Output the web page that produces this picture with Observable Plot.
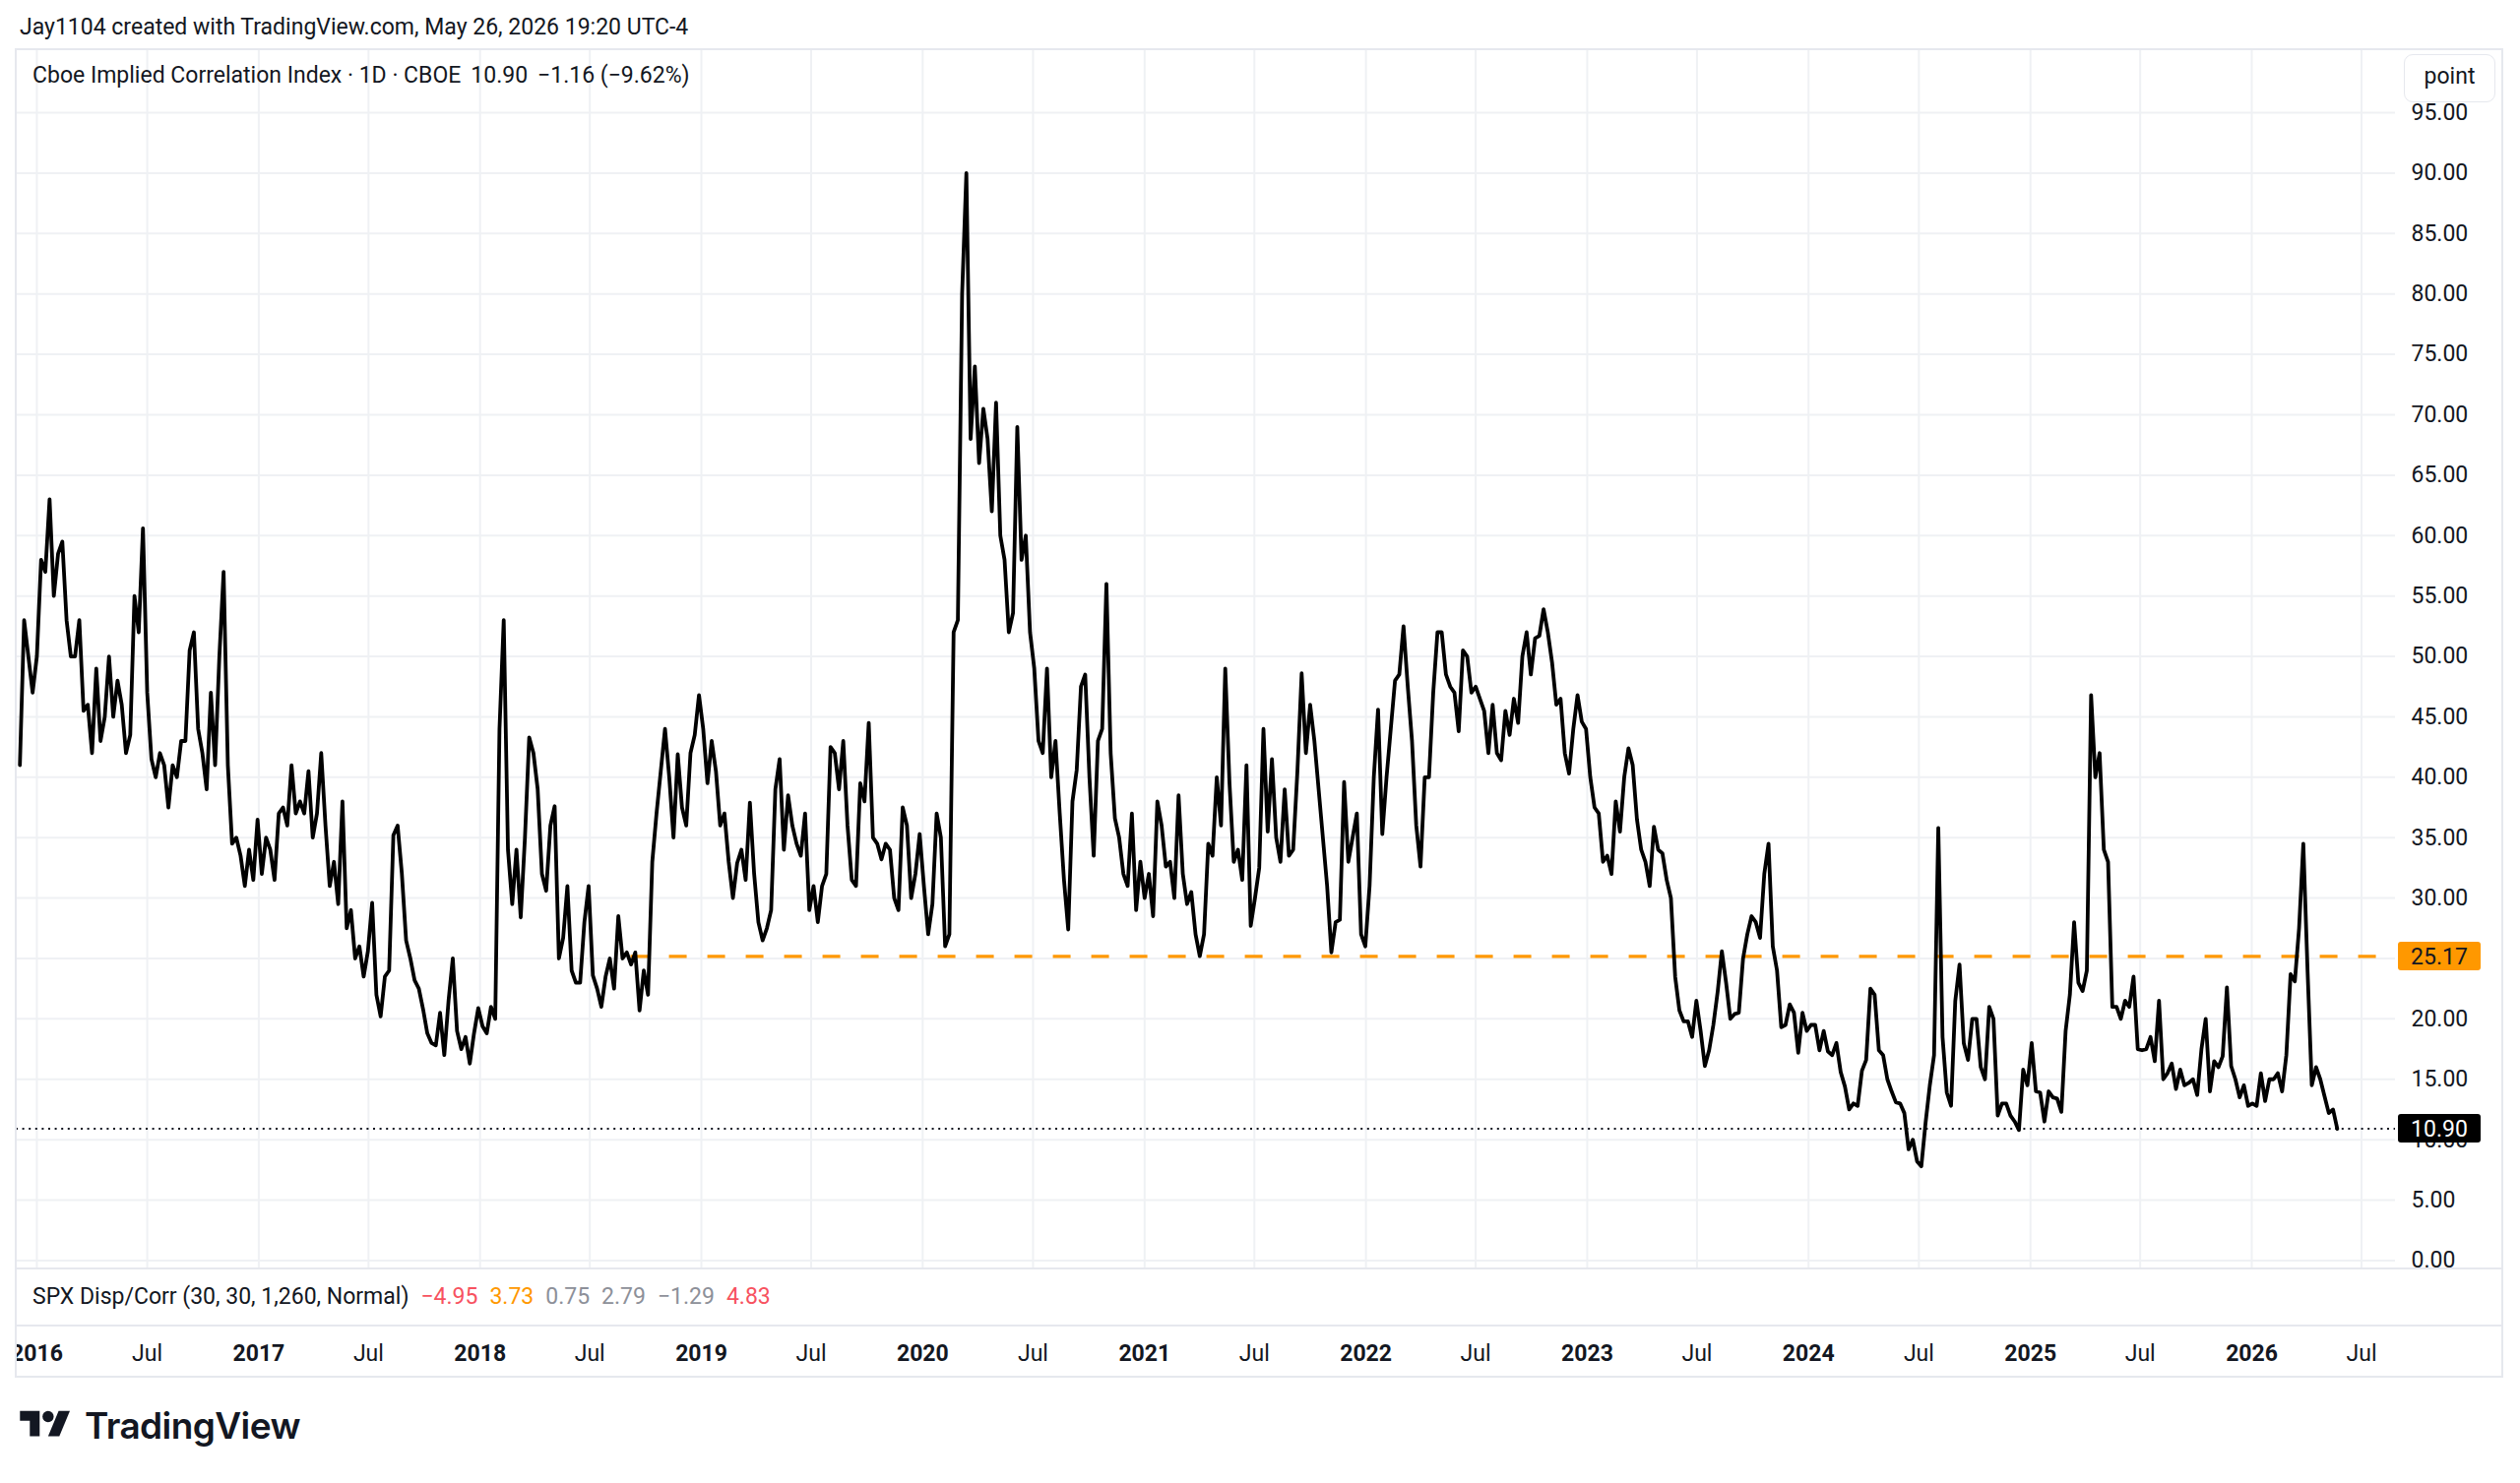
<!DOCTYPE html>
<html>
<head>
<meta charset="utf-8">
<script src="https://cdn.jsdelivr.net/npm/d3@7"></script>
<script src="https://cdn.jsdelivr.net/npm/@observablehq/plot@0.6"></script>
<style>
  html, body { margin: 0; padding: 0; background: #fff; }
  body { width: 2560px; height: 1507px; position: relative; overflow: hidden; font-family: Roboto, "Noto Sans", sans-serif; color: #131722; }
  .abs { position: absolute; white-space: nowrap; }
  .hline { position: absolute; background: #e6e8ee; }
  #header { left: 20px; top: 15px; font-size: 23px; line-height: 26px; }
  #legend { left: 33px; top: 64px; font-size: 23px; line-height: 26px; }
  #legend span { margin-left: 10px; }
  #indicator { left: 33px; top: 1305px; font-size: 23px; line-height: 26px; }
  #indicator span { margin-left: 12px; }
  #pointbtn { left: 2442px; top: 55px; width: 93px; height: 49px; box-sizing: border-box; border: 1.5px solid #e6e8ee; border-radius: 9px; background: #fff; font-size: 23px; line-height: 44px; text-align: center; }
  #logo { left: 20px; top: 1428px; }
  #logotext { left: 86px; top: 1426px; font-family: Inter, Roboto, sans-serif; font-weight: 600; font-size: 37px; line-height: 46px; letter-spacing: -0.6px; color: #131722; }
</style>
</head>
<body>
<div id="chartwrap" class="abs" style="left:16px;top:0;width:2526px;height:1400px;overflow:hidden"></div>

<div class="hline" style="left:16px;top:49px;width:2526px;height:2px"></div>
<div class="hline" style="left:16px;top:1288px;width:2526px;height:2px"></div>
<div class="hline" style="left:16px;top:1346px;width:2526px;height:2px"></div>
<div class="hline" style="left:16px;top:1398px;width:2526px;height:2px"></div>
<div class="hline" style="left:15px;top:49px;width:2px;height:1351px"></div>
<div class="hline" style="left:2541px;top:49px;width:2px;height:1351px"></div>

<div id="header" class="abs">Jay1104 created with TradingView.com, May 26, 2026 19:20 UTC-4</div>
<div id="legend" class="abs"></div>
<div id="indicator" class="abs"></div>
<div id="pointbtn" class="abs">point</div>
<svg id="logo" class="abs" width="52" height="40" viewBox="0 0 36 28">
  <path d="M14 22H7V11H0V4h14v18z" fill="#131722"/>
  <circle cx="20" cy="8" r="4" fill="#131722"/>
  <path d="M28 22h-8l7.5-18h8L28 22z" fill="#131722"/>
</svg>
<div id="logotext" class="abs">TradingView</div>

<script>
// ---- Data: weekly readings of the Cboe Implied Correlation Index (from 2015-12-04) ----
const y2016 = [41, 53, 50, 47, 50, 58, 57, 63, 55, 58.5,
  59.5, 53, 50, 50, 53, 45.5, 46, 42, 49, 43,
  45, 50, 45, 48, 46, 42, 43.5, 55, 52, 60.6,
  47, 41.5, 40, 42, 41, 37.5, 41, 40, 43, 43,
  50.5, 52, 44, 42, 39, 47, 41, 50, 57, 41,
  34.5, 35, 33.5, 31, 34, 31.5, 36.5];
const y2017 = [32, 35, 34, 31.5, 37, 37.5, 36, 41, 37, 38,
  37, 40.5, 35, 37, 42, 36, 31, 33, 29.5, 38,
  27.5, 29, 25, 26, 23.5, 25.6, 29.6, 22, 20.2, 23.5,
  24, 35.2, 36, 32, 26.5, 25, 23.2, 22.5, 20.8, 18.8,
  18, 17.8, 20.5, 17, 21.5, 25, 19, 17.5, 18.5, 16.3,
  18.8, 20.9];
const y2018 = [19.4, 18.8, 21, 20, 44, 53, 34, 29.5, 34, 28.4,
  35, 43.3, 42, 39, 32, 30.6, 36, 37.6, 25, 26.7,
  31, 24, 23, 23, 28, 31, 23.6, 22.5, 21, 23.5,
  25, 22.5, 28.5, 25, 25.5, 24.5, 25.5, 20.7, 24, 22,
  33, 37, 40.5, 44, 40, 35, 41.9, 37.5, 36, 42,
  43.5, 46.8];
const y2019 = [44, 39.5, 43, 40.5, 36, 37, 33, 30, 32.9, 34,
  31.5, 37.9, 32, 28, 26.5, 27.5, 29, 39, 41.5, 34,
  38.5, 36, 34.5, 33.5, 37, 29, 31, 28, 31, 32,
  42.5, 42, 39, 43, 36, 31.5, 31, 39.5, 38, 44.5,
  35, 34.5, 33.2, 34.5, 34, 30, 29, 37.5, 36, 30,
  32, 35.3];
const y2020 = [31, 27, 29.5, 37, 35, 26, 27, 52, 53, 80,
  90, 68, 74, 66, 70.5, 68, 62, 71, 60, 58,
  52, 53.6, 69, 58, 60, 52, 49, 43, 42, 49,
  40, 43, 37, 31.5, 27.4, 38, 40.6, 47.5, 48.5, 40,
  33.5, 43, 44, 56, 42, 36.6, 35, 32, 31, 37,
  29, 33];
const y2021 = [30, 32, 28.5, 38, 36, 32.6, 33, 30, 38.5, 32,
  29.5, 30.5, 27, 25.2, 27, 34.5, 33.5, 40, 36, 49,
  39.5, 33, 34, 31.5, 41, 27.7, 30, 32.5, 44, 35.5,
  41.5, 35, 33, 39, 33.5, 34, 40.5, 48.6, 42, 46,
  43, 39, 35, 31, 25.5, 28, 28.2, 39.6, 33, 35,
  37, 27, 26];
const y2022 = [31, 40, 45.6, 35.3, 40, 44, 48, 48.5, 52.5, 47.5,
  43, 36, 32.6, 40, 40, 47, 52, 52, 48.5, 47.5,
  47, 43.8, 50.5, 50, 47, 47.5, 46.5, 45.5, 42, 46,
  42, 41.4, 45.5, 43.5, 46.5, 44.5, 50, 52, 48.5, 51.5,
  51.7, 53.9, 52, 49.5, 46, 46.5, 42, 40.3, 44, 46.8,
  44.6, 44];
const y2023 = [40, 37.5, 37, 33, 33.5, 32, 38, 35.5, 40, 42.4,
  41, 36.5, 34, 33, 31, 35.9, 34, 33.7, 31.5, 30,
  23.5, 20.7, 19.8, 19.8, 18.5, 21.5, 19, 16.1, 17.4, 19.5,
  22.2, 25.6, 23, 20, 20.4, 20.5, 25, 27, 28.5, 28,
  26.7, 32, 34.5, 26, 24, 19.3, 19.5, 21.2, 20.5, 17.2,
  20.5, 19];
const y2024 = [19.5, 19.5, 17.4, 19, 17.3, 17, 18, 15.6, 14.4, 12.5,
  13, 12.8, 15.7, 16.6, 22.5, 22, 17.4, 17, 15, 14,
  13.1, 13, 12.2, 9.2, 10, 8.2, 7.8, 11.4, 14.5, 17,
  35.8, 18.5, 13.9, 12.8, 21.5, 24.5, 18, 16.6, 20, 20,
  16, 15, 21, 20, 12, 13, 13, 12, 11.5, 10.8,
  15.8, 14.5];
const y2025 = [18, 14, 13.9, 11.5, 14, 13.5, 13.4, 12.3, 19, 22,
  28, 23, 22.3, 24, 46.8, 40, 42, 34, 33, 21,
  21, 20, 21.5, 21, 23.5, 17.5, 17.4, 17.5, 18.5, 16.5,
  21.5, 15, 15.5, 16.3, 14.2, 15.8, 14.5, 14.7, 15, 13.7,
  17.5, 20, 14, 16.5, 16, 16.9, 22.6, 16.1, 15, 13.5,
  14.5, 12.8];
const y2026 = [13, 12.8, 15.5, 13.2, 15, 15, 15.5, 14, 17, 23.7,
  23.1, 27.5, 34.5, 24, 14.5, 16, 15, 13.6, 12.2, 12.5,
  10.9];

// axis / annotation values
const yTicks = [0, 5, 10, 15, 20, 25, 30, 35, 40, 45, 50, 55, 60, 65, 70, 75, 80, 85, 90, 95];
const yearTicks = [2016, 2017, 2018, 2019, 2020, 2021, 2022, 2023, 2024, 2025, 2026];
const julTicks = [2016, 2017, 2018, 2019, 2020, 2021, 2022, 2023, 2024, 2025, 2026];
const levelValue = [25.17];
const levelStart = ["2018-09-07"];
const lastValue = [10.90];
const legendName = "Cboe Implied Correlation Index · 1D · CBOE";
const legendValues = ["10.90", "−1.16 (−9.62%)"];
const indicatorName = "SPX Disp/Corr (30, 30, 1,260, Normal)";
const indicatorValues = ["−4.95", "3.73", "0.75", "2.79", "−1.29", "4.83"];
const indicatorColors = ["#f7525f", "#ff9800", "#8d9099", "#8d9099", "#8d9099", "#f7525f"];

// ---- build table ----
const START = Date.UTC(2015, 11, 4);
const DAY = 86400000;
const series = [].concat(y2016, y2017, y2018, y2019, y2020, y2021, y2022, y2023, y2024, y2025, y2026);
const data = series.map((v, i) => ({date: new Date(START + i * 7 * DAY), value: v}));
const xDomain = [new Date(Date.UTC(2015, 10, 28)), new Date(Date.UTC(2026, 7, 26))];
const yearDates = yearTicks.map(y => new Date(Date.UTC(y, 0, 1)));
const julDates = julTicks.map(y => new Date(Date.UTC(y, 6, 1)));
const levels = levelValue.map((v, i) => ({value: v, start: new Date(levelStart[i] + "T00:00:00Z"), end: xDomain[1]}));

const gridColor = "#eff1f4";

const chart = Plot.plot({
  width: 2526,
  height: 1400,
  marginLeft: 0,
  marginRight: 109,
  marginTop: 49,
  marginBottom: 111,
  style: {fontFamily: "Roboto, 'Noto Sans', sans-serif", fontSize: "23px", color: "#131722", background: "#fff", overflow: "visible"},
  x: {type: "utc", domain: xDomain, axis: null},
  y: {domain: [-0.7, 100.3], axis: null, label: null},
  marks: [
    Plot.gridY(yTicks, {stroke: gridColor, strokeOpacity: 1, strokeWidth: 2}),
    Plot.gridX(yearDates.concat(julDates), {stroke: gridColor, strokeOpacity: 1, strokeWidth: 2}),
    Plot.axisY(yTicks, {anchor: "right", label: null, tickSize: 0, tickPadding: 16, tickFormat: d3.format(".2f"), fill: "#131722", fontSize: 23}),
    Plot.text(yearDates, {x: d => d, frameAnchor: "bottom", dy: 86, text: (d, i) => String(yearTicks[i]), fontWeight: "bold", fontSize: 23, fill: "#131722", lineAnchor: "middle"}),
    Plot.text(julDates, {x: d => d, frameAnchor: "bottom", dy: 86, text: () => "Jul", fontSize: 23, fill: "#131722", lineAnchor: "middle"}),
    Plot.ruleY(levels, {y: "value", x1: "start", x2: "end", stroke: "#ff9800", strokeWidth: 3.3, strokeDasharray: "18,21"}),
    Plot.ruleY(lastValue, {stroke: "#131722", strokeWidth: 2, strokeDasharray: "2,4.6"}),
    Plot.line(data, {x: "date", y: "value", stroke: "#000", strokeWidth: 3.8})
  ]
});
document.getElementById("chartwrap").appendChild(chart);

// price tags on the right axis, positioned with the plot's own y scale
const yScale = chart.scale("y");
const plotRight = 2526 - 109;
const svg = d3.select(chart);
const tags = [
  {value: levelValue[0], fill: "#ff9800", color: "#131722"},
  {value: lastValue[0], fill: "#000000", color: "#ffffff"}
];
tags.forEach(t => {
  const y = yScale.apply(t.value);
  const g = svg.append("g");
  g.append("rect").attr("x", plotRight + 3).attr("y", y - 14.5).attr("width", 84).attr("height", 29).attr("rx", 3).attr("fill", t.fill);
  g.append("text").attr("x", plotRight + 45).attr("y", y).attr("dy", "0.36em").attr("text-anchor", "middle")
    .attr("font-size", 23).attr("fill", t.color).text(d3.format(".2f")(t.value));
});

// legend lines
const legend = document.getElementById("legend");
legend.textContent = legendName;
legendValues.forEach(v => { const s = document.createElement("span"); s.textContent = v; legend.appendChild(s); });
const ind = document.getElementById("indicator");
ind.textContent = indicatorName;
indicatorValues.forEach((v, i) => { const s = document.createElement("span"); s.textContent = v; s.style.color = indicatorColors[i]; ind.appendChild(s); });
</script>
</body>
</html>
